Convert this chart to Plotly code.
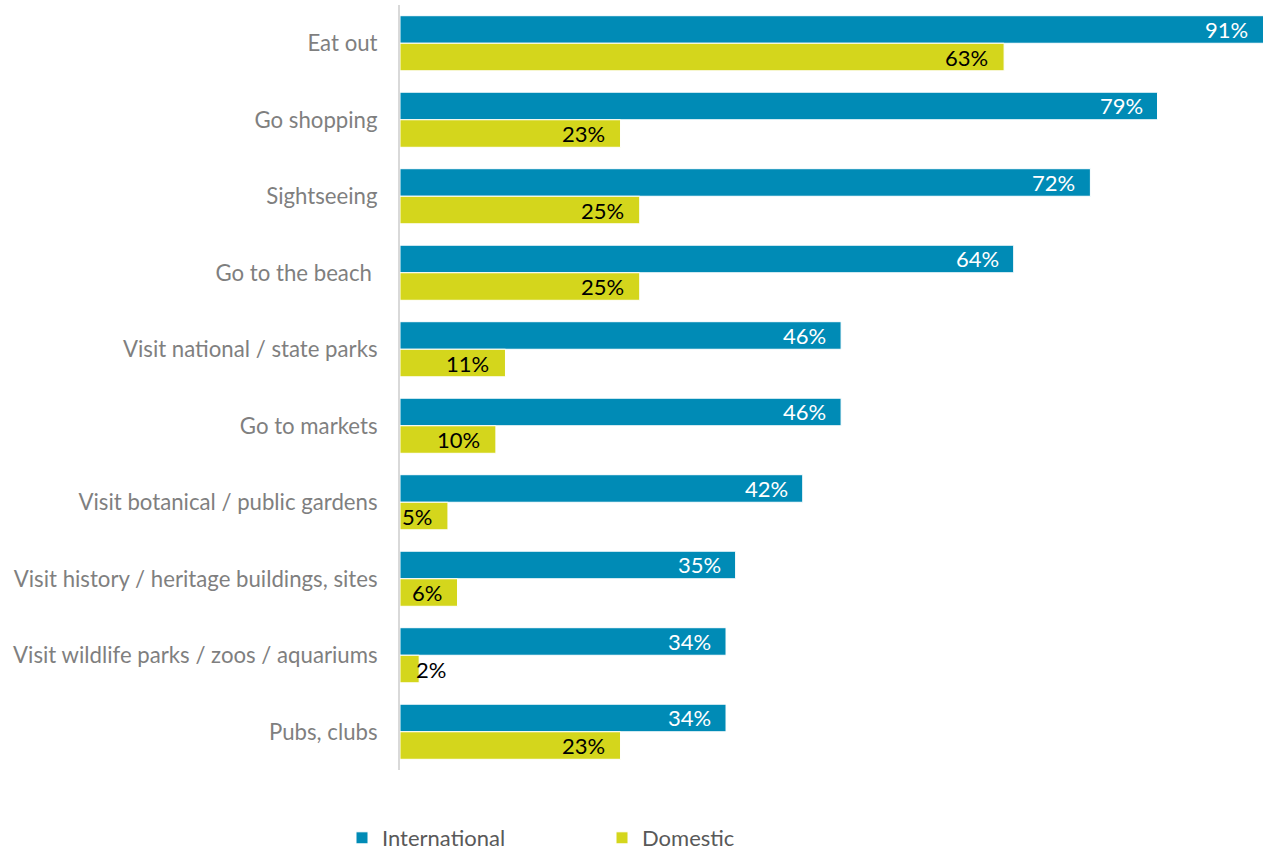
import plotly.graph_objects as go

categories = [
    "Eat out",
    "Go shopping",
    "Sightseeing",
    "Go to the beach ",
    "Visit national / state parks",
    "Go to markets",
    "Visit botanical / public gardens",
    "Visit history / heritage buildings, sites",
    "Visit wildlife parks / zoos / aquariums",
    "Pubs, clubs",
]
international = [91, 79, 72, 64, 46, 46, 42, 35, 34, 34]
domestic = [63, 23, 25, 25, 11, 10, 5, 6, 2, 23]

FONT = "Lato"
BLUE = "#008BB6"
LIME = "#D4D61C"
X_MAX = 90
HALF_BAR = 13.8  # half of one bar's thickness in px (group offset)

fig = go.Figure()
fig.add_trace(go.Bar(
    name="International", y=categories, x=international, orientation="h",
    marker=dict(color=BLUE, line=dict(color="white", width=1)),
    hoverinfo="x+y",
))
fig.add_trace(go.Bar(
    name="Domestic", y=categories, x=domestic, orientation="h",
    marker=dict(color=LIME, line=dict(color="white", width=1)),
    hoverinfo="x+y",
))

# value labels at the end of each bar
annotations = []
for cat, v in zip(categories, international):
    annotations.append(dict(
        x=min(v, X_MAX), y=cat, xref="x", yref="y", text=f"{v}%",
        showarrow=False, xanchor="right", xshift=-13, yshift=HALF_BAR,
        font=dict(family=FONT, size=22, color="white"),
    ))
for cat, v in zip(categories, domestic):
    small = v < 4
    annotations.append(dict(
        x=v, y=cat, xref="x", yref="y", text=f"{v}%",
        showarrow=False, xanchor="left" if small else "right",
        xshift=-5 if small else -14, yshift=-HALF_BAR,
        font=dict(family=FONT, size=22, color="black"),
    ))

fig.update_layout(
    width=1263, height=854,
    margin=dict(l=400, r=0, t=5, b=84, pad=0, autoexpand=False),
    plot_bgcolor="white", paper_bgcolor="white",
    barmode="group", bargap=0.28, bargroupgap=0,
    showlegend=True,
    annotations=annotations,
    legend=dict(
        orientation="h", x=-0.0672, xanchor="left", y=-0.0889, yanchor="middle",
        entrywidth=215, entrywidthmode="pixels",
        font=dict(family=FONT, size=22, color="#595959"),
        itemwidth=30,
    ),
    xaxis=dict(range=[0, X_MAX], visible=False, fixedrange=True),
    yaxis=dict(
        autorange="reversed", showline=True, linecolor="#D9D9D9", linewidth=2,
        ticks="", ticklabelstandoff=16,
        tickfont=dict(family=FONT, size=22.2, color="#7F7F7F"),
        showgrid=False, fixedrange=True,
    ),
)

fig.write_html("out.html")
